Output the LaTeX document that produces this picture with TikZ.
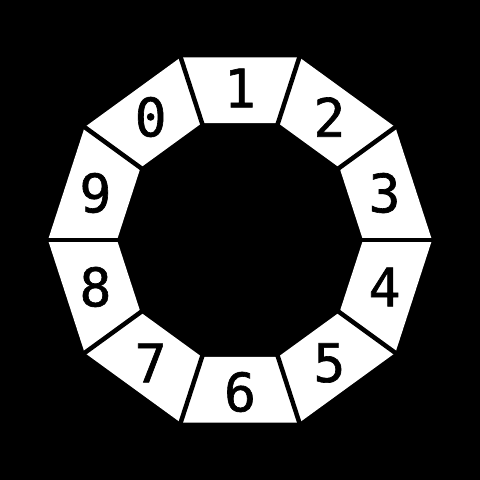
\documentclass[tikz,border=0pt]{standalone}
\usepackage{fontspec}
\newfontfamily\digitfont[FakeBold=1.2]{DejaVu Sans Mono}
\begin{document}
\begin{tikzpicture}[x=1pt,y=1pt,
  seg/.style={fill=white},
  gapline/.style={draw=black,line width=4.5pt},
  digit/.style={font=\digitfont\fontsize{53}{53}\selectfont,text=black,inner sep=0pt}]
\fill[black] (0,0) rectangle (480,480);
\useasboundingbox (0,0) rectangle (480,480);
\coordinate (c) at (240,240);
\foreach \d [count=\k from 0] in {1,2,3,4,5,6,7,8,9,0} {
  \pgfmathsetmacro{\a}{90-36*\k}
  \fill[seg] ([shift={(\a-18:192)}]c) -- ([shift={(\a+18:192)}]c) -- ([shift={(\a+18:123)}]c) -- ([shift={(\a-18:123)}]c) -- cycle;
  \node[digit] (d\d) at ([shift={(\a:152)}]c) {\d};
}
\foreach \k in {0,...,9} {
  \draw[gapline] ([shift={(36*\k:110)}]c) -- ([shift={(36*\k:200)}]c);
}
\end{tikzpicture}
\end{document}
